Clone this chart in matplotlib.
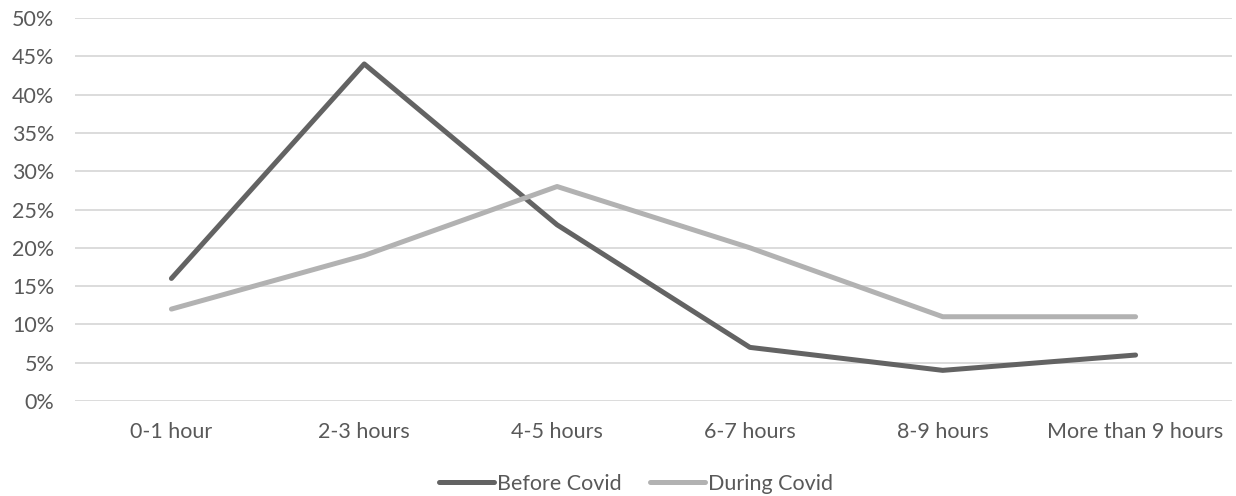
import matplotlib
matplotlib.use("Agg")
import matplotlib.pyplot as plt
from matplotlib.ticker import FuncFormatter, MultipleLocator

categories = ["0-1 hour", "2-3 hours", "4-5 hours", "6-7 hours", "8-9 hours", "More than 9 hours"]
before_covid = [16, 44, 23, 7, 4, 6]
during_covid = [12, 19, 28, 20, 11, 11]

plt.rcParams["font.family"] = ["Lato", "DejaVu Sans"]
text_color = "#595959"

fig = plt.figure(figsize=(12.36, 4.96), dpi=100)
ax = fig.add_axes([75 / 1236, 1 - 401 / 496, (1232 - 75) / 1236, (401 - 18) / 496])

x = range(len(categories))
ax.plot(x, before_covid, color="#636363", lw=3.6, solid_capstyle="round",
        solid_joinstyle="round", label="Before Covid", zorder=3)
ax.plot(x, during_covid, color="#b2b2b2", lw=3.6, solid_capstyle="round",
        solid_joinstyle="round", label="During Covid", zorder=3)

ax.set_xlim(-0.5, len(categories) - 0.5)
ax.set_ylim(0, 50)
ax.yaxis.set_major_locator(MultipleLocator(5))
ax.yaxis.set_major_formatter(FuncFormatter(lambda v, _: f"{v:.0f}%"))
ax.set_xticks(list(x))
ax.set_xticklabels(categories)

ax.grid(axis="y", color="#d9d9d9", lw=1.3)
ax.set_axisbelow(True)
for s in ax.spines.values():
    s.set_visible(False)
ax.tick_params(length=0, labelsize=15.5, labelcolor=text_color)
ax.tick_params(axis="y", pad=15)
ax.tick_params(axis="x", pad=15)

leg = fig.legend(loc="center", bbox_to_anchor=(636 / 1236, 1 - 484 / 496), ncol=2,
                 frameon=False, fontsize=15.5, handlelength=2.55, handletextpad=0.15,
                 columnspacing=1.3, labelcolor=text_color)

fig.savefig("out.png", dpi=100)
